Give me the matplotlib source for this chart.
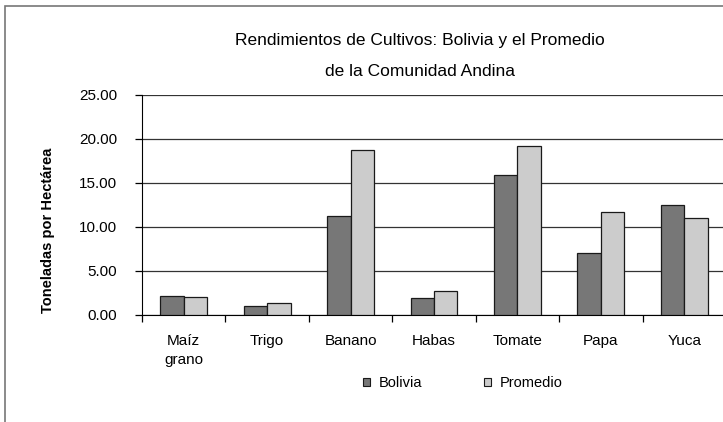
import matplotlib
matplotlib.use("Agg")
import matplotlib.pyplot as plt
import numpy as np
from matplotlib.patches import Rectangle
from matplotlib.ticker import FormatStrFormatter

categories = ["Maíz\ngrano", "Trigo", "Banano", "Habas", "Tomate", "Papa", "Yuca"]
bolivia = [2.20, 0.98, 11.25, 1.93, 15.90, 7.00, 12.46]
promedio = [2.08, 1.40, 18.70, 2.73, 19.24, 11.67, 11.02]
series_names = ["Bolivia", "Promedio"]
yticks = [0, 5, 10, 15, 20, 25]

plt.rcParams['font.family'] = ['Liberation Sans', 'DejaVu Sans']

fig = plt.figure(figsize=(7.23, 4.22), dpi=100)
ax = fig.add_axes([142/723, 1-315/422, 584/723, 220/422])

# outer frame
fig.patches.append(Rectangle((5/723, -0.05), 1.2, 1-6/422+0.05, transform=fig.transFigure,
                             fill=False, edgecolor='#777777', linewidth=1.2, zorder=0))

x = np.arange(len(categories))
w = 0.28
ax.bar(x - w/2, bolivia, w, color='#777777', edgecolor='#1a1a1a', linewidth=0.9, zorder=3, label=series_names[0])
ax.bar(x + w/2, promedio, w, color='#cccccc', edgecolor='#1a1a1a', linewidth=0.9, zorder=3, label=series_names[1])

ax.set_xlim(-0.5, len(categories) - 0.5)
ax.set_ylim(0, 25)
ax.set_yticks(yticks)
ax.yaxis.set_major_formatter(FormatStrFormatter('%.2f'))
ax.yaxis.grid(True, color='#333333', linewidth=0.9, zorder=0)
ax.set_axisbelow(True)

ax.set_xticks(np.arange(len(categories) + 1) - 0.5)
ax.set_xticklabels([])
ax.set_xticks(x, minor=True)
ax.set_xticklabels(categories, minor=True, fontsize=11, linespacing=1.45, va='top')
ax.tick_params(axis='x', which='minor', length=0, pad=14)
ax.tick_params(axis='x', which='major', length=5, width=0.9, direction='out')
ax.tick_params(axis='y', length=5, width=0.9, direction='out', labelsize=11, pad=13)

for s in ['top', 'right']:
    ax.spines[s].set_visible(False)
ax.spines['left'].set_color('black')
ax.spines['bottom'].set_color('black')

fig.text(48/723, 1-230/422, "Toneladas por Hectárea", rotation=90,
         ha='center', va='center', fontsize=10.5, fontweight='bold')

fig.text(420/723, 1-40/422, "Rendimientos de Cultivos: Bolivia y el Promedio",
         ha='center', va='center', fontsize=12.5)
fig.text(420/723, 1-72/422, "de la Comunidad Andina",
         ha='center', va='center', fontsize=12.5)

leg = fig.legend(loc='center', bbox_to_anchor=(463/723, 1-383/422), ncol=2, frameon=False,
                 fontsize=10.5, handlelength=0.5, handleheight=0.5, columnspacing=4.2, handletextpad=0.6)
for h in leg.legend_handles:
    h.set_linewidth(0.8)

fig.savefig("out.png", dpi=100)
